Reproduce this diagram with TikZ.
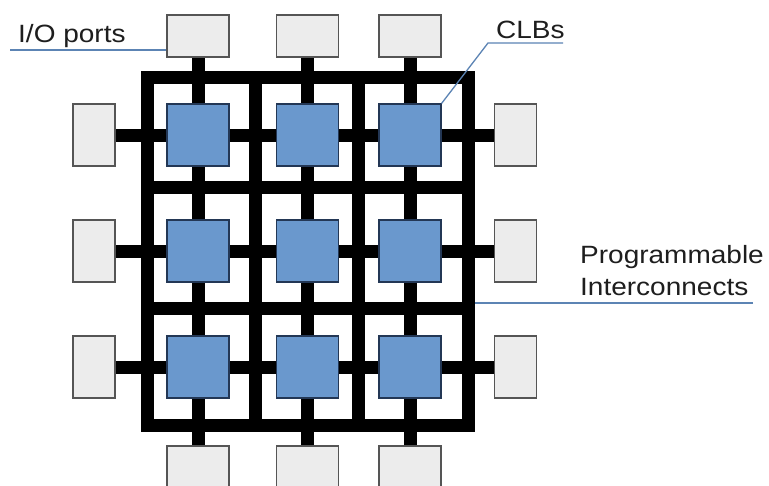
\documentclass[tikz,border=0pt]{standalone}
\usepackage{fontspec}
\setmainfont{Liberation Sans}
\pgfdeclarelayer{background}
\pgfsetlayers{background,main}
\definecolor{portfill}{RGB}{236,236,236}
\definecolor{portdraw}{RGB}{85,85,85}
\definecolor{clbfill}{RGB}{106,152,205}
\definecolor{clbdraw}{RGB}{35,55,85}
\definecolor{lbl}{RGB}{92,132,180}
\definecolor{txt}{RGB}{30,30,30}
\tikzset{
  port/.style={draw=portdraw, fill=portfill, line width=1.5pt, inner sep=0pt},
  hport/.style={port, minimum width=62pt, minimum height=42pt},
  vport/.style={port, minimum width=42pt, minimum height=62pt},
  clb/.style={draw=clbdraw, fill=clbfill, line width=1.2pt, inner sep=0pt, minimum width=62pt, minimum height=62pt},
  bus/.style={line width=13pt, black},
  lead/.style={draw=lbl, line width=1.3pt},
  lab/.style={inner sep=0pt, text=txt, font=\fontsize{25}{30}\selectfont}
}
\begin{document}
\begin{tikzpicture}[x=1pt, y=-1pt]
\useasboundingbox (0,0) rectangle (769,485);
\clip (0,0) rectangle (769,485);

% I/O ports
\node[hport] (t1) at (198,36) {};
\node[hport] (t2) at (307.5,36) {};
\node[hport] (t3) at (410,36) {};
\node[hport] (b1) at (198,467) {};
\node[hport] (b2) at (307.5,467) {};
\node[hport] (b3) at (410,467) {};
\node[vport] (l1) at (94,135) {};
\node[vport] (l2) at (94,251) {};
\node[vport] (l3) at (94,367) {};
\node[vport] (r1) at (515.5,135) {};
\node[vport] (r2) at (515.5,251) {};
\node[vport] (r3) at (515.5,367) {};

% CLBs
\node[clb] (c11) at (198,135) {};
\node[clb] (c12) at (307.5,135) {};
\node[clb] (c13) at (410,135) {};
\node[clb] (c21) at (198,251) {};
\node[clb] (c22) at (307.5,251) {};
\node[clb] (c23) at (410,251) {};
\node[clb] (c31) at (198,367) {};
\node[clb] (c32) at (307.5,367) {};
\node[clb] (c33) at (410,367) {};

\begin{pgfonlayer}{background}
\fill[white] (0,0) rectangle (769,485);
% interconnect grid
\draw[bus] (147.5,77) rectangle (468,425);
\draw[bus] (255.5,77) -- (255.5,425);
\draw[bus] (358.5,77) -- (358.5,425);
\draw[bus] (147.5,187) -- (468,187);
\draw[bus] (147.5,308.5) -- (468,308.5);
% connectors port to port
\draw[bus] (t1.south) -- (b1.north);
\draw[bus] (t2.south) -- (b2.north);
\draw[bus] (t3.south) -- (b3.north);
\draw[bus] (l1.east) -- (r1.west);
\draw[bus] (l2.east) -- (r2.west);
\draw[bus] (l3.east) -- (r3.west);
\end{pgfonlayer}

% labels
\node[lab, anchor=base west] (iolab) at (18,42) {\scalebox{1.12}[1]{I/O ports}};
\node[lab, anchor=base west] (clblab) at (496,38) {\scalebox{1.12}[1]{CLBs}};
\node[lab, anchor=base west] (prog) at (580,263) {\scalebox{1.12}[1]{Programmable}};
\node[lab, anchor=base west] (inter) at (580,295) {\scalebox{1.12}[1]{Interconnects}};

\coordinate (ioa) at (10,50);
\coordinate (clba) at (563,43);
\coordinate (clbb) at (488,43);
\coordinate (pia) at (753,303);
\coordinate (pib) at (474.5,303);

\draw[lead] (ioa) -- (t1.west |- ioa);
\draw[lead] (clba) -- (clbb) -- (c13.north east);
\draw[lead] (pia) -- (pib);
\end{tikzpicture}
\end{document}
